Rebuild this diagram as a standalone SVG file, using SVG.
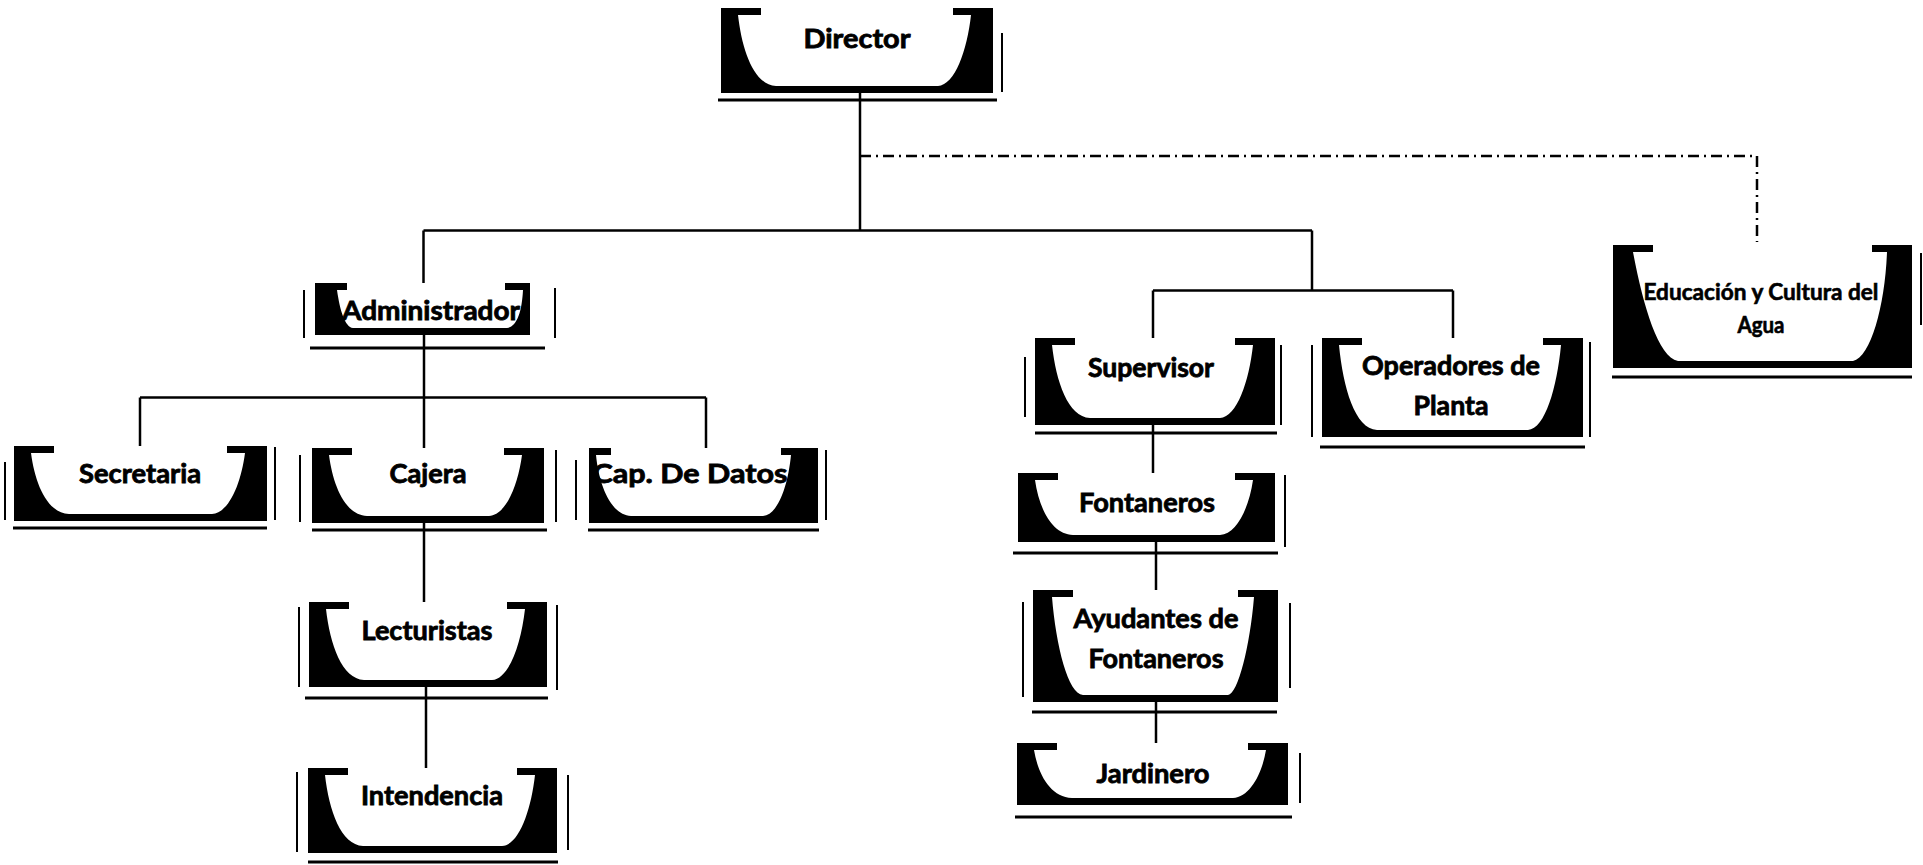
<svg xmlns="http://www.w3.org/2000/svg" width="1923" height="865" viewBox="0 0 1923 865">
<style>
.bx{fill:#000}
.in{fill:#fff}
.ul{stroke:#000;stroke-width:3;fill:none}
.sl{stroke:#000;stroke-width:2;fill:none}
.c{stroke:#000;stroke-width:2.5;fill:none}
.dd{stroke-dasharray:11 5 2 5}
.t{font-family:Lato,"Open Sans","DejaVu Sans",sans-serif;font-weight:700;font-size:26px;text-anchor:middle;fill:#000;stroke:#000;stroke-width:0.8px}
.ts{font-size:22px;stroke-width:0.6px}
</style>
<rect x="0" y="0" width="1923" height="865" fill="#fff"/>

<g id="connectors">
  <path class="c" d="M860 93V230.5"/>
  <path class="c" d="M423.5 230.5H1312"/>
  <path class="c" d="M423.5 230.5V283"/>
  <path class="c" d="M1312 230.5V290.5"/>
  <path class="c" d="M1153 290.5H1453"/>
  <path class="c" d="M1153 290.5V338"/>
  <path class="c" d="M1453 290.5V338"/>
  <path class="c dd" d="M860 156H1757V242"/>
  <path class="c" d="M424 335V397.5"/>
  <path class="c" d="M140 397.5H706"/>
  <path class="c" d="M140 397.5V446"/>
  <path class="c" d="M424 397.5V448"/>
  <path class="c" d="M706 397.5V448"/>
  <path class="c" d="M424 523V602"/>
  <path class="c" d="M426 687V768"/>
  <path class="c" d="M1153 425V473"/>
  <path class="c" d="M1156 542V590"/>
  <path class="c" d="M1156 702V743"/>
</g>

<g id="director">
  <rect class="bx" x="721" y="8" width="272" height="85"/>
  <path class="in" transform="translate(721 8)" d="M40 0H232V7H250C246 42.5 234 77 217 78H55C33 77 21 42.5 17 7H40Z"/>
  <path class="ul" d="M718 100H997"/>
  <path class="sl" d="M1002 33V92"/>
  <text class="t" x="857" y="48" textLength="107" lengthAdjust="spacingAndGlyphs">Director</text>
</g>

<g id="administrador">
  <rect class="bx" x="315" y="283" width="215" height="52"/>
  <path class="in" transform="translate(315 283)" d="M32 0H190V7H208C207 28 202 44 192 45H38C30 44 25 28 22 7H32Z"/>
  <path class="ul" d="M310 348H545"/>
  <path class="sl" d="M555 288V338"/>
  <path class="sl" d="M304 290V338"/>
  <text class="t" x="431" y="320" textLength="178" lengthAdjust="spacingAndGlyphs">Administrador</text>
</g>

<g id="secretaria">
  <rect class="bx" x="14" y="446" width="253" height="75"/>
  <path class="in" transform="translate(14 446)" d="M40 0H213V7H231C227 37.5 215 67 198 68H55C33 67 21 37.5 17 7H40Z"/>
  <path class="ul" d="M13 528H267"/>
  <path class="sl" d="M275 447V520"/>
  <path class="sl" d="M5 462V520"/>
  <text class="t" x="140" y="483" textLength="122" lengthAdjust="spacingAndGlyphs">Secretaria</text>
</g>

<g id="cajera">
  <rect class="bx" x="312" y="448" width="232" height="75"/>
  <path class="in" transform="translate(312 448)" d="M40 0H192V7H210C206 37.5 194 67 177 68H55C33 67 21 37.5 17 7H40Z"/>
  <path class="ul" d="M312 530H547"/>
  <path class="sl" d="M556 450V522"/>
  <path class="sl" d="M300 455V522"/>
  <text class="t" x="428" y="483" textLength="77" lengthAdjust="spacingAndGlyphs">Cajera</text>
</g>

<g id="cap-de-datos">
  <rect class="bx" x="589" y="448" width="229" height="75"/>
  <path class="in" transform="translate(589 448)" d="M22 0H192V7H202C199 37.5 189 67 174 68H42C22 67 10 37.5 7 7H22Z"/>
  <path class="ul" d="M588 530H819"/>
  <path class="sl" d="M826 450V520"/>
  <path class="sl" d="M576 460V520"/>
  <text class="t" x="690" y="483" textLength="195" lengthAdjust="spacingAndGlyphs">Cap. De Datos</text>
</g>

<g id="lecturistas">
  <rect class="bx" x="309" y="602" width="238" height="85"/>
  <path class="in" transform="translate(309 602)" d="M40 0H198V7H216C212 42.5 200 77 183 78H55C33 77 21 42.5 17 7H40Z"/>
  <path class="ul" d="M305 698H548"/>
  <path class="sl" d="M557 605V690"/>
  <path class="sl" d="M299 607V687"/>
  <text class="t" x="427" y="640" textLength="131" lengthAdjust="spacingAndGlyphs">Lecturistas</text>
</g>

<g id="intendencia">
  <rect class="bx" x="308" y="768" width="249" height="85"/>
  <path class="in" transform="translate(308 768)" d="M40 0H209V7H227C223 42.5 211 77 194 78H55C33 77 21 42.5 17 7H40Z"/>
  <path class="ul" d="M308 862H558"/>
  <path class="sl" d="M568 775V850"/>
  <path class="sl" d="M297 772V852"/>
  <text class="t" x="432" y="805" textLength="142" lengthAdjust="spacingAndGlyphs">Intendencia</text>
</g>

<g id="supervisor">
  <rect class="bx" x="1035" y="338" width="240" height="87"/>
  <path class="in" transform="translate(1035 338)" d="M40 0H200V7H218C214 43.5 202 79 185 80H55C33 79 21 43.5 17 7H40Z"/>
  <path class="ul" d="M1035 433H1277"/>
  <path class="sl" d="M1281 345V425"/>
  <path class="sl" d="M1025 357V417"/>
  <text class="t" x="1151" y="377" textLength="126" lengthAdjust="spacingAndGlyphs">Supervisor</text>
</g>

<g id="fontaneros">
  <rect class="bx" x="1018" y="473" width="257" height="69"/>
  <path class="in" transform="translate(1018 473)" d="M40 0H217V7H235C231 34.5 219 61 202 62H55C33 61 21 34.5 17 7H40Z"/>
  <path class="ul" d="M1013 553H1278"/>
  <path class="sl" d="M1285 475V547"/>
  <text class="t" x="1147" y="512" textLength="136" lengthAdjust="spacingAndGlyphs">Fontaneros</text>
</g>

<g id="ayudantes-de-fontaneros">
  <rect class="bx" x="1033" y="590" width="245" height="112"/>
  <path class="in" transform="translate(1033 590)" d="M40 0H205V7H221C217 56 205 104 195 105H50C35 104 23 56 19 7H40Z"/>
  <path class="ul" d="M1032 712H1277"/>
  <path class="sl" d="M1290 603V688"/>
  <path class="sl" d="M1023 602V697"/>
  <text class="t" x="1156" y="628" textLength="165" lengthAdjust="spacingAndGlyphs">Ayudantes de</text>
  <text class="t" x="1156" y="668" textLength="135" lengthAdjust="spacingAndGlyphs">Fontaneros</text>
</g>

<g id="jardinero">
  <rect class="bx" x="1017" y="743" width="271" height="62"/>
  <path class="in" transform="translate(1017 743)" d="M40 0H231V7H249C245 31 233 54 216 55H55C33 54 21 31 17 7H40Z"/>
  <path class="ul" d="M1015 817H1292"/>
  <path class="sl" d="M1300 753V803"/>
  <text class="t" x="1153" y="783" textLength="113" lengthAdjust="spacingAndGlyphs">Jardinero</text>
</g>

<g id="operadores-de-planta">
  <rect class="bx" x="1322" y="338" width="261" height="99"/>
  <path class="in" transform="translate(1322 338)" d="M40 0H221V7H239C235 49.5 223 91 206 92H55C33 91 21 49.5 17 7H40Z"/>
  <path class="ul" d="M1320 447H1585"/>
  <path class="sl" d="M1590 342V437"/>
  <path class="sl" d="M1312 345V437"/>
  <text class="t" x="1451" y="375" textLength="178" lengthAdjust="spacingAndGlyphs">Operadores de</text>
  <text class="t" x="1451" y="415" textLength="75" lengthAdjust="spacingAndGlyphs">Planta</text>
</g>

<g id="educacion-y-cultura-del-agua">
  <rect class="bx" x="1613" y="245" width="299" height="123"/>
  <path class="in" transform="translate(1613 245)" d="M40 0H259V7H274C272 60 258 112 240 116H65C45 112 30 60 20 7H40Z"/>
  <path class="ul" d="M1612 377H1912"/>
  <path class="sl" d="M1921 253V325"/>
  <text class="t ts" x="1761" y="300" textLength="235" lengthAdjust="spacingAndGlyphs">Educación y Cultura del</text>
  <text class="t ts" x="1761" y="333" textLength="47" lengthAdjust="spacingAndGlyphs">Agua</text>
</g>
</svg>
